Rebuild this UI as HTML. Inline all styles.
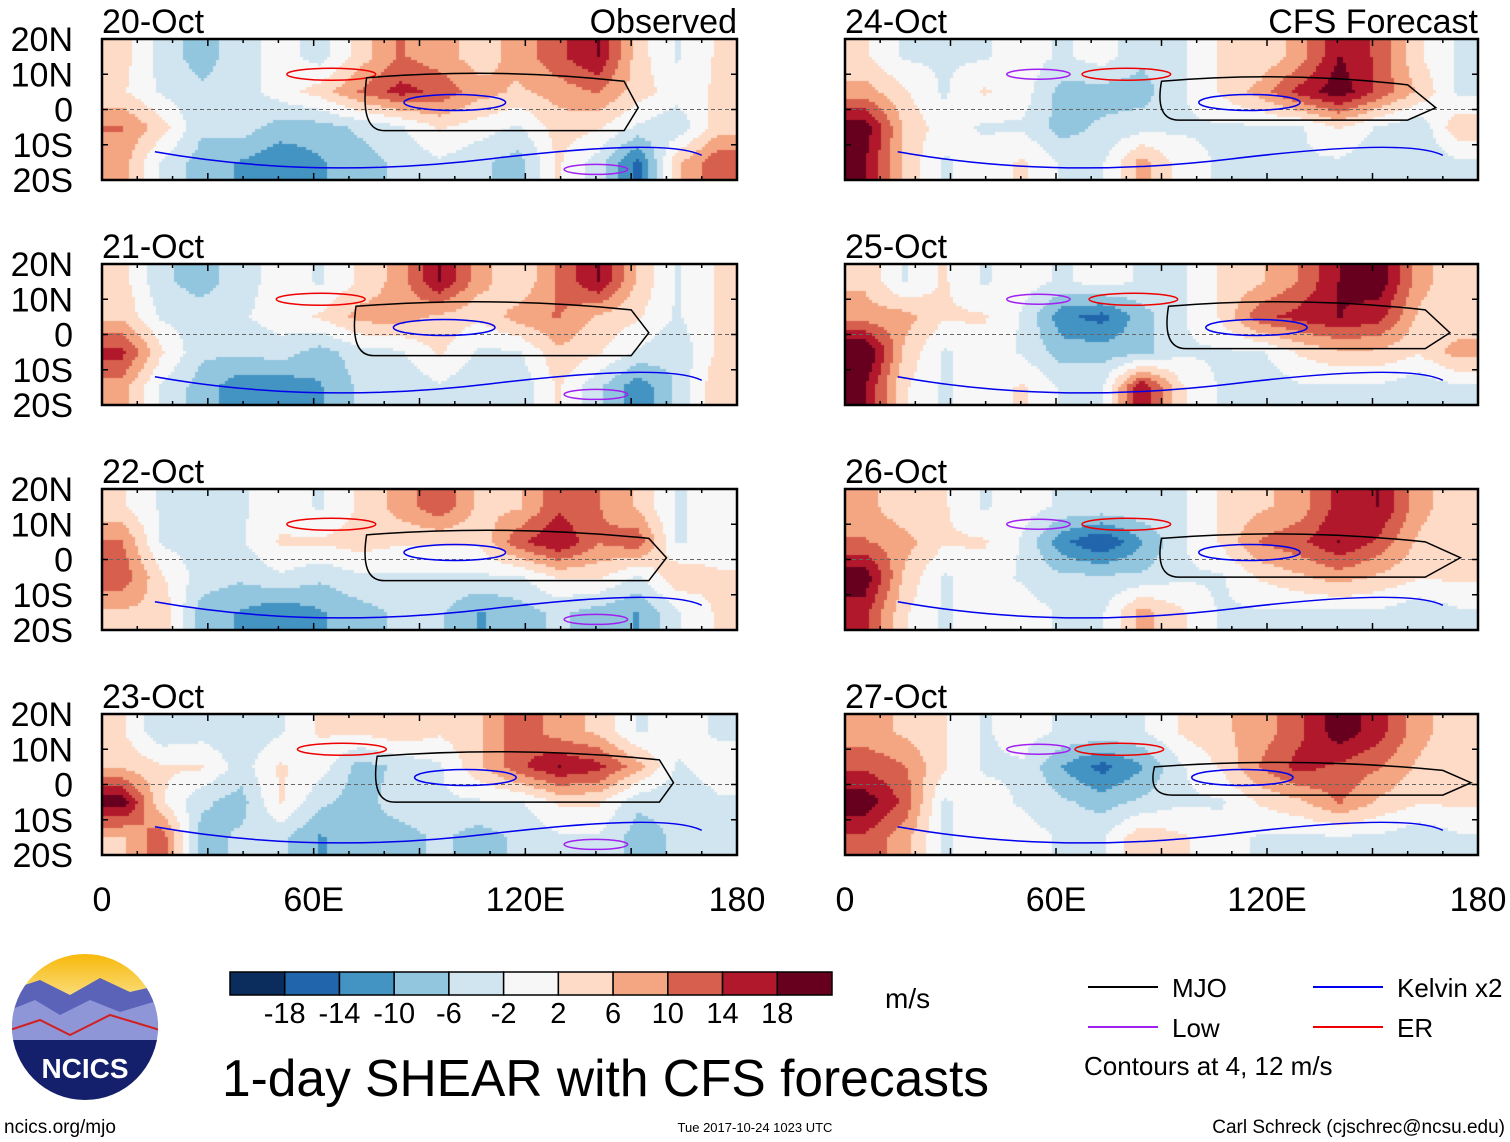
<!DOCTYPE html>
<html><head><meta charset="utf-8">
<style>
body{margin:0;width:1510px;height:1142px;background:#fff;position:relative;overflow:hidden;font-family:"Liberation Sans",sans-serif;color:#000}
canvas{position:absolute}
svg{position:absolute;left:0;top:0}
</style></head><body>
<svg id="ov" width="1510" height="1142"></svg>
<script>
// ---- data (m/s shear anomaly, rows 15N,5N,5S,15S; 16 lon cols 0-180) ----
const panelTitles=["20-Oct","21-Oct","22-Oct","23-Oct","24-Oct","25-Oct","26-Oct","27-Oct"];
const latTicks=["20N","10N","0","10S","20S"];
const lonTicks=["0","60E","120E","180"];
const cbLabels=["-18","-14","-10","-6","-2","2","6","10","14","18"];
const f20=[[3,-3,-6,-3,0,-3,3,8,6,3,6,10,14,3,-2,2],[2,-2,-4,-3,0,3,8,12,10,6,4,6,8,3,0,2],[8,3,-4,-3,-6,-6,-4,-2,2,0,-2,3,2,-2,-4,3],[6,-2,-6,-8,-10,-8,-6,-4,-2,-4,-6,2,-3,-12,4,10]];
const f21=[[3,-4,-6,-3,0,-2,2,6,14,6,2,8,14,4,-2,2],[4,-2,-3,-2,0,2,6,6,4,2,6,8,4,2,-2,2],[12,2,-4,-4,-3,-6,-3,-2,2,-2,-2,4,2,-2,-4,2],[6,-2,-6,-10,-10,-8,-4,-4,-2,-4,-4,2,-4,-10,-4,4]];
const f22=[[2,-2,-4,-2,0,-2,2,6,10,4,4,10,8,4,-2,0],[8,-2,-3,-2,2,2,3,2,2,2,10,14,8,10,-2,0],[10,2,-3,-4,-2,-4,-2,-2,-2,-2,-2,2,2,-2,4,2],[4,4,-6,-8,-10,-8,-6,-4,-4,-8,-6,-4,-6,-8,-2,2]];
const f23=[[2,-4,-3,-4,-2,2,2,4,2,4,10,6,4,-2,0,-2],[4,2,2,-3,2,0,-6,-4,-2,4,10,14,12,6,-2,0],[16,2,-4,-6,2,-4,-6,-3,-2,-2,-2,2,2,-4,-4,-2],[4,10,-6,-4,-4,-8,-6,-6,-4,-6,-4,-2,-2,-6,-4,-2]];
const f24=[[2,-2,-2,-2,0,-2,0,-4,-2,2,2,6,14,10,2,-2],[6,2,-2,2,0,-6,-6,-6,-2,2,6,12,16,10,4,-2],[16,4,0,-2,-2,-6,-4,-3,-2,-2,-2,-2,2,-2,-4,4],[14,4,-2,0,2,-2,-2,6,0,-2,-4,-2,-2,-4,-4,-2]];
const f25=[[4,-2,2,-2,0,-2,0,-2,-2,2,4,8,14,16,6,2],[6,6,2,2,-2,-10,-12,-6,-2,2,10,12,14,12,4,2],[18,4,-2,0,-2,-6,-6,-6,-2,-2,-2,2,4,4,2,6],[14,2,-2,0,2,-2,-2,14,2,-2,-4,-2,-2,-2,-4,-2]];
const f26=[[6,2,2,-2,0,-2,-2,-2,-2,2,4,6,12,14,6,2],[8,6,2,2,-2,-10,-14,-8,-2,2,8,10,14,10,4,2],[16,4,-2,0,-2,-4,-4,-4,-2,-2,2,4,6,4,2,2],[12,2,-2,0,0,-2,-2,6,2,-2,-2,-2,-2,-2,-4,-2]];
const f27=[[6,4,2,-2,0,-2,-2,-2,2,4,6,10,16,12,6,2],[10,8,2,-2,-2,-8,-12,-8,-2,2,8,12,10,8,4,2],[16,10,-2,0,-2,-4,-6,-4,-2,-2,2,4,8,4,2,2],[10,6,-2,0,0,-2,-2,4,2,0,-2,-2,-2,-2,-4,-2]];
const fields=[f20,f21,f22,f23,f24,f25,f26,f27];
// MJO contour: west lon, east lon, tip lon, north lat, south lat
const mjoW=[75,72,75,78,90,92,90,88], mjoE=[148,150,155,158,160,165,165,170], mjoTip=[152,155,160,162,168,172,175,178];
const mjoN=[9,8,7,8,8,8,6,5], mjoS=[-6,-6,-6,-5,-3,-4,-5,-3];
const colors=["#0a2d5e","#2166ac","#4393c3","#92c5de","#d1e5f0","#f7f7f7","#fddbc7","#f4a582","#d6604d","#b2182b","#67001f"];
const bounds=[-18,-14,-10,-6,-2,2,6,10,14,18];
</script>
<script>
const NS="http://www.w3.org/2000/svg";
const ov=document.getElementById('ov');
const colX=[102,845], W=[635,633], rowY=[39,264,489,714], H=141;
const gain=1.3;
function colorFor(v){let i=0;while(i<bounds.length&&v>=bounds[i])i++;return colors[i];}
function sample(f,lon,lat){
  let cx=lon/11.25-0.5, cy=(15-lat)/10;
  cx=Math.max(0,Math.min(15,cx)); cy=Math.max(0,Math.min(3,cy));
  const x0=Math.floor(cx),y0=Math.floor(cy),x1=Math.min(15,x0+1),y1=Math.min(3,y0+1),dx=cx-x0,dy=cy-y0;
  return (f[y0][x0]*(1-dx)+f[y0][x1]*dx)*(1-dy)+(f[y1][x0]*(1-dx)+f[y1][x1]*dx)*dy;
}
function mk(tag,attrs,parent){const e=document.createElementNS(NS,tag);for(const k in attrs)e.setAttribute(k,attrs[k]);(parent||ov).appendChild(e);return e;}
function txt(s,x,y,size,anchor,name){const e=mk('text',{x:x,y:y,'font-size':size,'text-anchor':anchor||'start','font-family':'Liberation Sans, sans-serif'});e.textContent=s;


return e;}
for(let p=0;p<8;p++){
  const c=p<4?0:1, r=p%4, x0=colX[c], y0=rowY[r], w=W[c];
  const cv=document.createElement('canvas');cv.width=w;cv.height=H;cv.style.left=x0+'px';cv.style.top=y0+'px';
  
  
  document.body.insertBefore(cv,ov);
  const g=cv.getContext('2d');const s=3;
  for(let yy=0;yy<H;yy+=s)for(let xx=0;xx<w;xx+=s){
    const lon=(xx+s/2)/w*180, lat=20-(yy+s/2)/H*40;
    g.fillStyle=colorFor(gain*sample(fields[p],lon,lat));g.fillRect(xx,yy,s,s);
  }
  const X=lon=>x0+lon/180*w, Y=lat=>y0+(20-lat)/40*H;
  const eq=mk('line',{x1:x0,x2:x0+w,y1:Y(0),y2:Y(0),stroke:'#666','stroke-width':1,'stroke-dasharray':'4,3'});
  
  
  const kb=mk('path',{d:`M${X(15)},${Y(-12)} Q${X(60)},${Y(-20)} ${X(110)},${Y(-14)} T${X(170)},${Y(-13)}`,fill:'none',stroke:'#0000ee','stroke-width':1.5});
  
  
  const kb2=mk('ellipse',{cx:X(mjoW[p]+25),cy:Y(2),rx:w*0.08,ry:8,fill:'none',stroke:'#0000ee','stroke-width':1.5});
  
  
  const er=mk('ellipse',{cx:X(mjoW[p]-10),cy:Y(10),rx:w*0.07,ry:6,fill:'none',stroke:'#ee0000','stroke-width':1.5});
  
  
  const lw=mk('ellipse',{cx:X(p<4?140:55),cy:Y(p<4?-17:10),rx:w*0.05,ry:5,fill:'none',stroke:'#a020f0','stroke-width':1.5});
  
  
  const d=`M${X(mjoW[p])},${Y(mjoN[p])} Q${X((mjoW[p]+mjoE[p])/2)},${Y(mjoN[p]+3)} ${X(mjoE[p])},${Y(mjoN[p]-1)} L${X(mjoTip[p])},${Y(0.5)} L${X(mjoE[p])},${Y(mjoS[p])} L${X(mjoW[p]+5)},${Y(mjoS[p])} Q${X(mjoW[p]-2)},${Y(mjoS[p])} ${X(mjoW[p])},${Y(mjoN[p])}Z`;
  const mj=mk('path',{d:d,fill:'none',stroke:'#000','stroke-width':1.5});
  
  
  const fr=mk('rect',{x:x0,y:y0,width:w,height:H,fill:'none',stroke:'#000','stroke-width':2.5});
  
  
  for(let lon=0;lon<=180;lon+=10){
    const len=lon%30==0?7:4;
    mk('line',{x1:X(lon),x2:X(lon),y1:y0,y2:y0+len,stroke:'#000','stroke-width':1.5});
    mk('line',{x1:X(lon),x2:X(lon),y1:y0+H,y2:y0+H-len,stroke:'#000','stroke-width':1.5});
  }
  for(let lat=-10;lat<=10;lat+=10){
    mk('line',{x1:x0,x2:x0+6,y1:Y(lat),y2:Y(lat),stroke:'#000','stroke-width':1.5});
    mk('line',{x1:x0+w,x2:x0+w-6,y1:Y(lat),y2:Y(lat),stroke:'#000','stroke-width':1.5});
  }
  txt(panelTitles[p],x0,y0-6,34,'start','panel-title');
  if(r==0) txt(c==0?'Observed':'CFS Forecast',x0+w,y0-6,34,'end','panel-label');
  if(c==0) latTicks.forEach((l,i)=>txt(l,73,y0+i*H/4+12,34,'end','lat-tick'));
  if(r==3) lonTicks.forEach((l,i)=>txt(l,x0+i*w/3,y0+H+56,34,'middle','lon-tick'));
}
const cbx=230,cby=972,cbw=602/11;
colors.forEach((col,i)=>{const b=mk('rect',{x:cbx+i*cbw,y:cby,width:cbw,height:23,fill:col,stroke:'#000','stroke-width':1.5});

});
cbLabels.forEach((l,i)=>txt(l,cbx+(i+1)*cbw,1023,29,'middle','colorbar-label'));
txt('m/s',885,1008,28,'start','colorbar-units');
txt('1-day SHEAR with CFS forecasts',222,1096,51.5,'start','chart-title');
[[1088,987,'#000','MJO'],[1088,1027,'#a020f0','Low'],[1313,987,'#0000ee','Kelvin x2'],[1313,1027,'#ee0000','ER']].forEach(a=>{
  const ln=mk('line',{x1:a[0],x2:a[0]+70,y1:a[1],y2:a[1],stroke:a[2],'stroke-width':2});
  
  
  txt(a[3],a[0]+84,a[1]+10,26,'start','legend-entry');
});
txt('Contours at 4, 12 m/s',1084,1075,26,'start','contour-note');
txt('ncics.org/mjo',4,1133,19,'start','site-link');
txt('Tue 2017-10-24 1023 UTC',755,1132,13,'middle','timestamp');
txt('Carl Schreck (cjschrec@ncsu.edu)',1505,1133,19,'end','author');
const lg=mk('g',{});


mk('defs',{},lg).innerHTML='<clipPath id="lc"><circle cx="85" cy="1027" r="73"/></clipPath><linearGradient id="sun" x1="0" y1="0" x2="0" y2="1"><stop offset="0" stop-color="#f7b500"/><stop offset="1" stop-color="#fbe8a0"/></linearGradient>';
const cg=mk('g',{'clip-path':'url(#lc)'},lg);
mk('rect',{x:10,y:950,width:150,height:60,fill:'url(#sun)'},cg);
mk('path',{d:'M10,990 L40,980 L70,995 L100,978 L130,992 L160,985 L160,1050 L10,1050Z',fill:'#5a63b8'},cg);
mk('path',{d:'M10,1010 L35,1000 L60,1015 L90,1000 L120,1012 L160,1000 L160,1050 L10,1050Z',fill:'#8f96d8'},cg);
mk('path',{d:'M10,1030 L40,1020 L70,1035 L110,1015 L160,1030',fill:'none',stroke:'#d02020','stroke-width':2},cg);
mk('rect',{x:10,y:1040,width:150,height:70,fill:'#14206b'},cg);
const nt=txt('NCICS',85,1078,28,'middle','logo-text');nt.setAttribute('fill','#fff');nt.setAttribute('font-weight','bold');
</script>
</body></html>
